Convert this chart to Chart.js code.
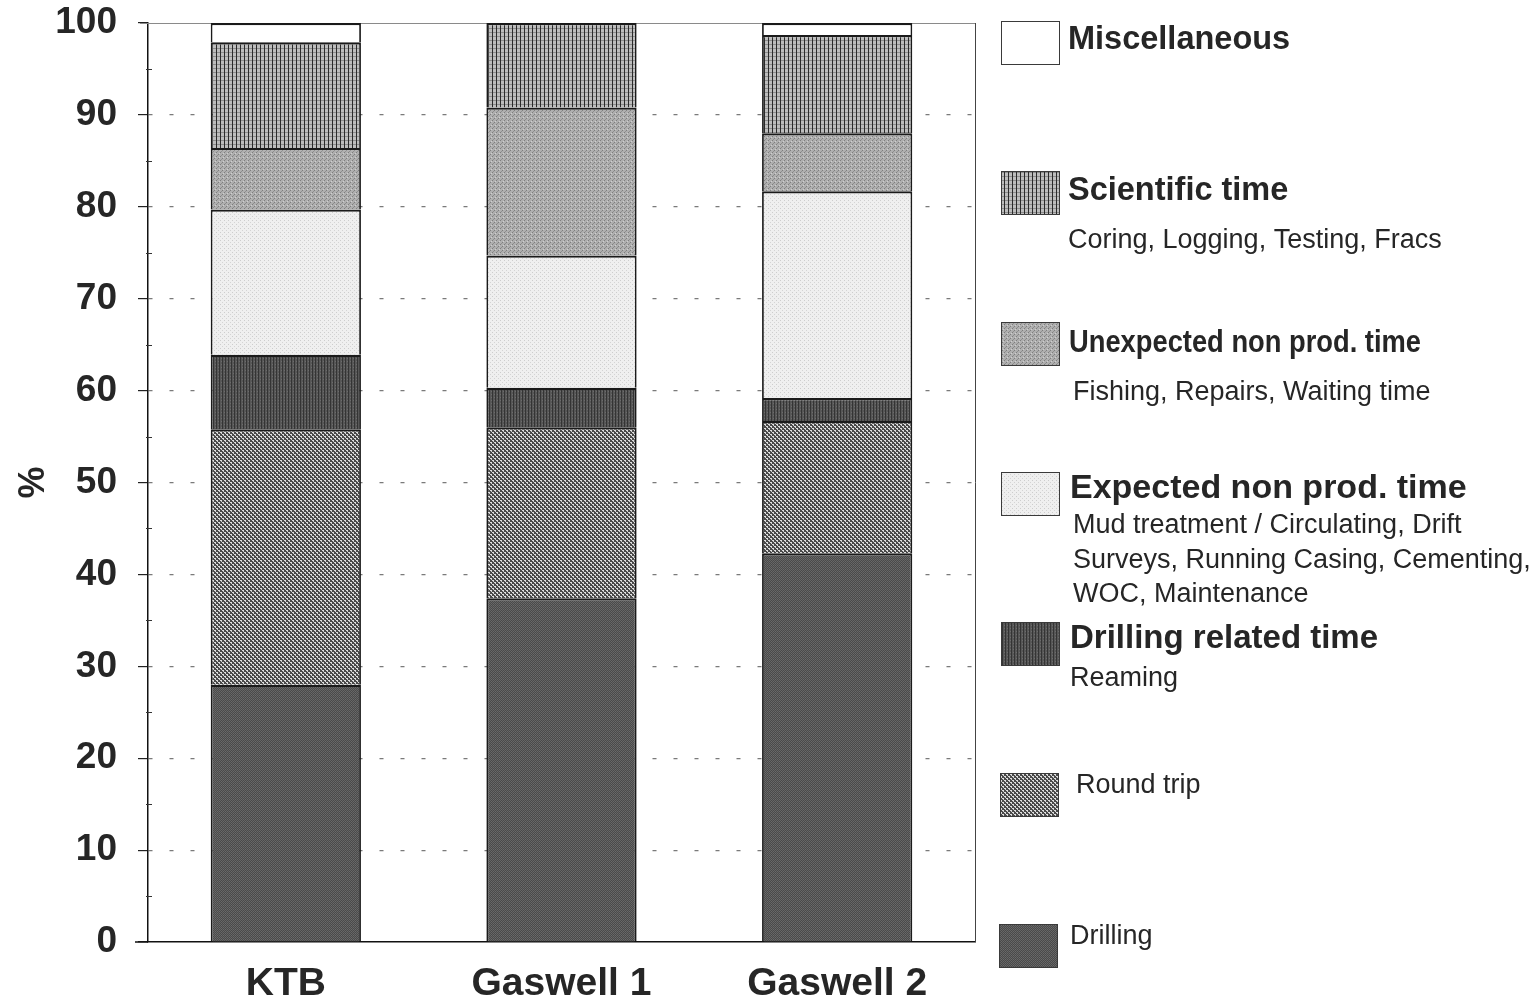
<!DOCTYPE html>
<html>
<head>
<meta charset="utf-8">
<title>Rig time breakdown</title>
<script src="https://cdn.jsdelivr.net/npm/chart.js@4.4.0/dist/chart.umd.min.js"></script>
<style>
  html, body { margin: 0; padding: 0; background: #fff; }
  #wrap { width: 1534px; height: 1003px; position: relative; }
</style>
</head>
<body>
<div id="wrap"><canvas id="myChart"></canvas></div>
<script>
'use strict';
// wells on the x axis
let wells = ['KTB', 'Gaswell 1', 'Gaswell 2'];

// percent of rig time, bottom of the stack first
let drilling = [28, 37.4, 42.3];
let roundTrip = [27.8, 18.6, 14.4];
let drillingRelated = [8.1, 4.3, 2.5];
let expectedNonProd = [15.8, 14.4, 22.5];
let unexpectedNonProd = [6.7, 16.1, 6.3];
let scientific = [11.5, 9.2, 10.7];
let miscellaneous = [2.1, 0, 1.3];

let seriesNames = ['Drilling', 'Round trip', 'Drilling related time', 'Expected non prod. time',
  'Unexpected non prod. time', 'Scientific time', 'Miscellaneous'];
let seriesNotes = [
  [],
  [],
  ['Reaming'],
  ['Mud treatment / Circulating, Drift', 'Surveys, Running Casing, Cementing,', 'WOC, Maintenance'],
  ['Fishing, Repairs, Waiting time'],
  ['Coring, Logging, Testing, Fracs'],
  []
];

let yTicks = [0, 10, 20, 30, 40, 50, 60, 70, 80, 90, 100];

const FONT = '"Liberation Sans", Arial, Helvetica, sans-serif';

// little tiles so the bars look like the old screen-printed fills
function makePattern(w, h, bg, dots){
  let c = document.createElement('canvas');
  c.width = w;
  c.height = h;
  let g = c.getContext('2d');
  g.fillStyle = bg;
  g.fillRect(0, 0, w, h);
  for (let i = 0; i < dots.length; i++) {
    g.fillStyle = dots[i][2];
    g.fillRect(dots[i][0], dots[i][1], dots[i][3] || 1, dots[i][4] || 1);
  }
  return g.createPattern(c, 'repeat');
}

let fills = [
  makePattern(2, 2, '#4a4a4a', [[1, 1, '#6a6a6a'], [0, 0, '#636363']]),
  makePattern(4, 4, '#4a4a4a', [[0, 0, '#e0e0e0'], [1, 0, '#e0e0e0'], [1, 1, '#d0d0d0'], [2, 2, '#e0e0e0'], [3, 2, '#e0e0e0'], [3, 3, '#d0d0d0']]),
  makePattern(3, 3, '#575757', [[0, 0, '#343434', 1, 3], [2, 1, '#6c6c6c']]),
  makePattern(4, 4, '#efefef', [[0, 0, '#cdcdcd'], [2, 2, '#d4d4d4']]),
  makePattern(4, 4, '#afafaf', [[0, 0, '#7e7e7e'], [2, 2, '#7e7e7e'], [1, 3, '#909090'], [3, 1, '#cfcfcf']]),
  makePattern(4, 4, '#bdbdbd', [[0, 0, '#2a2a2a', 1, 4], [1, 0, '#8c8c8c', 3, 1]]),
  '#ffffff'
];

let seriesData = [drilling, roundTrip, drillingRelated, expectedNonProd, unexpectedNonProd, scientific, miscellaneous];

let datasets = [];
for (let i = 0; i < seriesData.length; i++) {
  datasets.push({
    label: seriesNames[i],
    data: seriesData[i],
    backgroundColor: fills[i],
    borderColor: '#1a1a1a',
    borderWidth: {top: 2.2, left: 1.8, right: 1.8, bottom: 0},
    borderSkipped: false,
    categoryPercentage: 1,
    barPercentage: 0.545
  });
}

// frame lines, minor ticks and the hand-laid legend on the right
const extrasPlugin = {
  id: 'extras',
  beforeDatasetsDraw(chart){
    let ctx = chart.ctx;
    let a = chart.chartArea;
    ctx.save();
    ctx.strokeStyle = '#8a8a8a';
    ctx.lineWidth = 1;
    ctx.beginPath();
    ctx.moveTo(a.left - 8, a.top + 0.5);
    ctx.lineTo(a.right, a.top + 0.5);
    ctx.stroke();
    ctx.strokeStyle = '#444';
    ctx.beginPath();
    ctx.moveTo(a.right + 0.5, a.top);
    ctx.lineTo(a.right + 0.5, a.bottom);
    ctx.stroke();
    ctx.restore();
  },
  afterDraw(chart){
    let ctx = chart.ctx;
    let a = chart.chartArea;
    let y = chart.scales.y;
    ctx.save();
    ctx.strokeStyle = '#333';
    ctx.lineWidth = 1;
    for (let v = 5; v < 100; v += 10) {
      let py = Math.round(y.getPixelForValue(v)) + 0.5;
      ctx.beginPath();
      ctx.moveTo(a.left - 2, py);
      ctx.lineTo(a.left + 4, py);
      ctx.stroke();
    }
    // base line runs a little past the axis on the left
    ctx.strokeStyle = '#111';
    ctx.lineWidth = 1.5;
    ctx.beginPath();
    ctx.moveTo(a.left - 13, a.bottom);
    ctx.lineTo(a.left, a.bottom);
    ctx.stroke();

    // legend rows top to bottom
    let rows = [
      {i: 6, box: 21, bx: 1001, tx: 1068, ty: 40, size: 32.5, bold: true},
      {i: 5, box: 171, bx: 1001, tx: 1068, ty: 191, size: 32.5, bold: true, nx: 1068, ny: [241]},
      {i: 4, box: 322, bx: 1001, tx: 1069, ty: 343, size: 32, bold: true, squeeze: 352, nx: 1073, ny: [393]},
      {i: 3, box: 472, bx: 1001, tx: 1070, ty: 489, size: 34, bold: true, nx: 1073, ny: [526, 561, 595]},
      {i: 2, box: 622, bx: 1001, tx: 1070, ty: 639, size: 33, bold: true, nx: 1070, ny: [679]},
      {i: 1, box: 773, bx: 1000, tx: 1076, ty: 786, size: 27, bold: false},
      {i: 0, box: 924, bx: 999, tx: 1070, ty: 937, size: 27, bold: false}
    ];
    ctx.textBaseline = 'middle';
    ctx.textAlign = 'left';
    for (let r = 0; r < rows.length; r++) {
      let row = rows[r];
      ctx.fillStyle = fills[row.i];
      ctx.fillRect(row.bx, row.box, 59, 44);
      ctx.strokeStyle = '#3a3a3a';
      ctx.lineWidth = 1;
      ctx.strokeRect(row.bx + 0.5, row.box + 0.5, 58, 43);

      ctx.fillStyle = '#262626';
      ctx.font = (row.bold ? 'bold ' : '') + row.size + 'px ' + FONT;
      if (row.squeeze) {
        ctx.fillText(seriesNames[row.i], row.tx, row.ty, row.squeeze);
      } else {
        ctx.fillText(seriesNames[row.i], row.tx, row.ty);
      }
      let notes = seriesNotes[row.i];
      ctx.font = '27px ' + FONT;
      for (let n = 0; n < notes.length; n++) {
        ctx.fillText(notes[n], row.nx, row.ny[n]);
      }
    }
    ctx.restore();
  }
};

let ctx = document.getElementById('myChart');
let myChart = new Chart(ctx, {
  type: 'bar',
  data: {
    labels: wells,
    datasets: datasets
  },
  plugins: [extrasPlugin],
  options: {
    responsive: true,
    maintainAspectRatio: false,
    animation: false,
    layout: {
      padding: {top: 23, right: 559, left: 0, bottom: 0}
    },
    plugins: {
      legend: {display: false},
      tooltip: {enabled: false}
    },
    scales: {
      x: {
        stacked: true,
        afterFit(scale){ scale.height = 61; },
        grid: {display: false, drawTicks: false},
        border: {display: true, color: '#111', width: 1.5},
        ticks: {
          padding: 19,
          color: '#262626',
          font: {family: FONT, size: 39, weight: 'bold'}
        }
      },
      y: {
        stacked: true,
        min: 0,
        max: 100,
        afterFit(scale){
          scale.width = 148;
          scale.paddingTop = 0;
          scale.paddingBottom = 0;
        },
        afterBuildTicks(scale){
          let list = [];
          for (let k = 0; k < yTicks.length; k++) {
            list.push({value: yTicks[k]});
          }
          scale.ticks = list;
        },
        grid: {
          tickLength: 10,
          lineWidth: 1.2,
          color: c => (c.tick && c.tick.value > 0 && c.tick.value < 100) ? '#7a7a7a' : 'rgba(0,0,0,0)',
          tickColor: '#222'
        },
        border: {display: true, color: '#111', width: 1.5, dash: [4, 17]},
        title: {
          display: true,
          text: '%',
          color: '#262626',
          padding: {top: 12, bottom: 0},
          font: {family: FONT, size: 36, weight: 'bold'}
        },
        ticks: {
          autoSkip: false,
          padding: 21,
          color: '#262626',
          font: {family: FONT, size: 37, weight: 'bold'}
        }
      }
    }
  }
});
</script>
</body>
</html>
